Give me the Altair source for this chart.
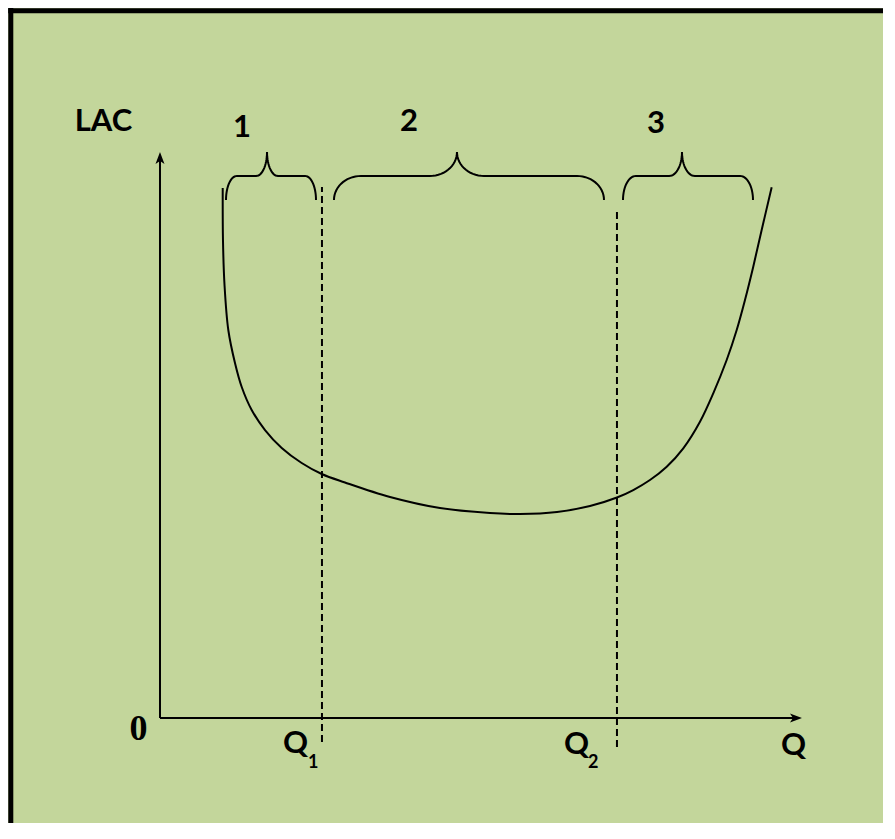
import altair as alt
import pandas as pd
import numpy as np

# ---- data (axis units: both axes run 0..100 from origin to arrow tip) ----
lac_q = [9.77, 9.81, 10.05, 10.64, 11.68, 12.73, 14.28, 16.36, 18.96, 22.07, 25.19,
         28.82, 35.83, 43.61, 51.40, 56.07, 61.84, 66.98, 71.18, 73.72, 76.32,
         78.93, 81.51, 84.11, 86.18, 88.27, 89.83, 91.12, 92.41, 93.72, 95.28]
lac_c = [93.64, 84.45, 76.50, 68.55, 62.72, 58.48, 54.42, 50.88, 47.70, 45.05, 43.11,
         41.61, 39.05, 37.10, 36.22, 36.04, 36.40, 37.46, 38.96, 40.28, 42.05,
         44.40, 47.65, 52.35, 57.37, 63.25, 68.55, 73.85, 79.74, 86.22, 93.76]

q_marks = [25.23, 71.18]          # Q1, Q2
dash_top = [93.8, 90.1]
dash_bottom = [-4.24, -5.12]

brace_labels = ["1", "2", "3"]
brace_left = [10.28, 27.10, 72.12]
brace_right = [24.30, 69.16, 92.37]
brace_peak = [16.67, 46.26, 81.31]
brace_rx = [1.7, 4.2, 2.0]
brace_end, brace_line, brace_top = 91.52, 95.76, 100.0
brace_label_q = [12.77, 38.79, 77.26]
brace_label_c = [102.65, 103.7, 103.36]

W, H = 875, 815
BG = "#C3D69B"
xs = alt.Scale(domain=[-23.676, 112.62], nice=False, zero=False)
ys = alt.Scale(domain=[-18.55, 125.44], nice=False, zero=False)


def X(f="x"):
    return alt.X(f, type="quantitative", scale=xs, axis=None)


def Y(f="y"):
    return alt.Y(f, type="quantitative", scale=ys, axis=None)


# frame (thick black border, top and left)
frame_df = pd.DataFrame({"x": [-23.64, -23.24], "x2": [112.62, -23.24],
                         "y": [124.95, 125.44], "y2": [124.95, -18.55]})
frame = alt.Chart(frame_df).mark_rule(color="black", strokeWidth=5, strokeCap="butt").encode(
    x=X("x"), x2="x2", y=Y("y"), y2="y2")

# axes
axes_df = pd.DataFrame({"x": [0, 0], "x2": [0, 99], "y": [0, 0], "y2": [99, 0]})
axes = alt.Chart(axes_df).mark_rule(color="black", strokeWidth=2).encode(
    x=X("x"), x2="x2", y=Y("y"), y2="y2")

arrow_path = "M0,0 L0.6,1.6 L0,1.2 L-0.6,1.6 Z"
arrow_up = alt.Chart(pd.DataFrame({"x": [0], "y": [100]})).mark_point(
    shape=arrow_path, filled=True, color="black", size=225, opacity=1, strokeWidth=0
).encode(x=X("x"), y=Y("y"))
arrow_right = alt.Chart(pd.DataFrame({"x": [100], "y": [0]})).mark_point(
    shape=arrow_path, filled=True, color="black", size=225, angle=90, opacity=1, strokeWidth=0
).encode(x=X("x"), y=Y("y"))

# dashed verticals
dash_df = pd.DataFrame({"x": q_marks, "y": dash_bottom, "y2": dash_top})
dashes = alt.Chart(dash_df).mark_rule(color="black", strokeWidth=2, strokeDash=[7, 4]).encode(
    x=X("x"), y=Y("y"), y2="y2")

# LAC curve
lac_df = pd.DataFrame({"x": lac_q, "y": lac_c, "o": list(range(len(lac_q)))})
lac = alt.Chart(lac_df).mark_line(color="black", strokeWidth=2, interpolate="catmull-rom").encode(
    x=X("x"), y=Y("y"), order="o:Q")

# braces
rows = []
n = 16
for b in range(3):
    x0, x1, xm, rx = brace_left[b], brace_right[b], brace_peak[b], brace_rx[b]
    ry1 = brace_line - brace_end
    ry2 = brace_top - brace_line
    segs = [
        (x0 + rx, brace_end, ry1, np.pi, np.pi / 2),
        (xm - rx, brace_top, ry2, -np.pi / 2, 0.0),
        (xm + rx, brace_top, ry2, np.pi, 1.5 * np.pi),
        (x1 - rx, brace_end, ry1, np.pi / 2, 0.0),
    ]
    k = 0
    for cx, cy, ry, t0, t1 in segs:
        for t in np.linspace(t0, t1, n):
            rows.append({"b": brace_labels[b], "o": k,
                         "x": cx + rx * np.cos(t), "y": cy + ry * np.sin(t)})
            k += 1
brace_df = pd.DataFrame(rows)
braces = alt.Chart(brace_df).mark_line(color="black", strokeWidth=2).encode(
    x=X("x"), y=Y("y"), order="o:Q", detail="b:N")

# labels
main_df = pd.DataFrame({"x": [-8.8] + brace_label_q, "y": [103.7] + brace_label_c,
                        "t": ["LAC"] + brace_labels})
main_txt = alt.Chart(main_df).mark_text(font="Lato", fontWeight="bold", fontSize=31,
                                        align="center", baseline="alphabetic", color="black").encode(
    x=X("x"), y=Y("y"), text="t:N")

q_df = pd.DataFrame({"x": [19.16, 62.93, 96.73], "y": [-6.18, -6.36, -6.54], "t": ["Q", "Q", "Q"]})
q_txt = alt.Chart(q_df).mark_text(font="Lato", fontWeight="bold", fontSize=31,
                                  align="left", baseline="alphabetic", color="black").encode(
    x=X("x"), y=Y("y"), text="t:N")

sub_df = pd.DataFrame({"x": [23.05, 66.67], "y": [-8.83, -8.83], "t": ["1", "2"]})
sub_txt = alt.Chart(sub_df).mark_text(font="Lato", fontWeight="bold", fontSize=18,
                                      align="left", baseline="alphabetic", color="black").encode(
    x=X("x"), y=Y("y"), text="t:N")

zero_df = pd.DataFrame({"x": [-3.35], "y": [-3.89], "t": ["0"]})
zero_txt = alt.Chart(zero_df).mark_text(font="Liberation Serif", fontWeight="bold", fontSize=36,
                                        align="center", baseline="alphabetic", color="black").encode(
    x=X("x"), y=Y("y"), text="t:N")

chart = alt.layer(frame, axes, arrow_up, arrow_right, dashes, lac, braces,
                  main_txt, q_txt, sub_txt, zero_txt).properties(
    width=W, height=H, padding=0, autosize=alt.AutoSizeParams(type="none"),
    background=BG
).configure_view(stroke=None)

chart.save("out.html", embed_options={"renderer": "svg", "actions": False})
